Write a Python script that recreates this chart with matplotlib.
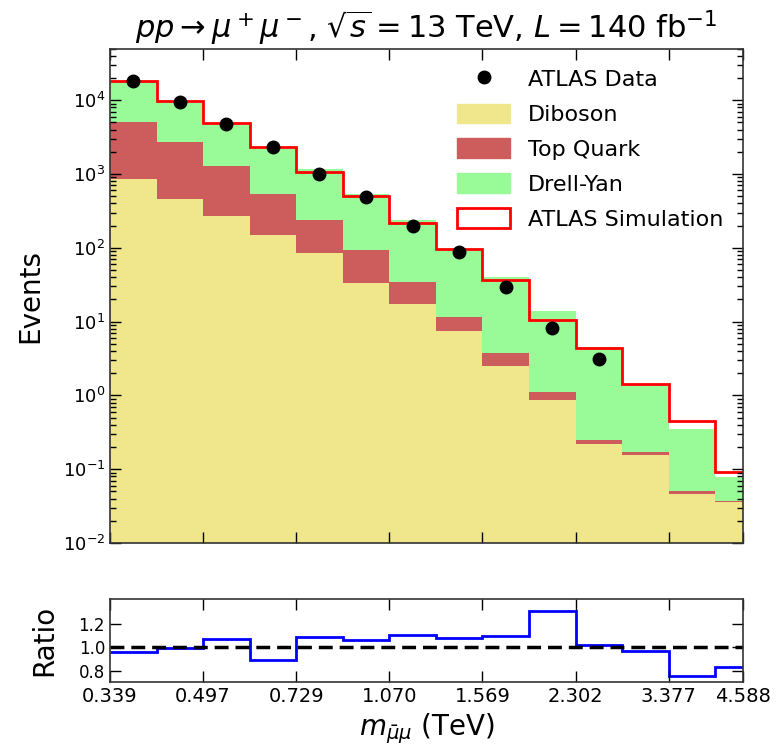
import numpy as np
import matplotlib
matplotlib.use("Agg")
import matplotlib.pyplot as plt
from matplotlib.patches import Patch
from matplotlib.lines import Line2D
from matplotlib.ticker import FixedLocator, FixedFormatter, NullLocator, LogLocator

# bin edges in TeV (log-spaced), the axis ends at 4.588
edges = [0.339, 0.4105, 0.497, 0.6019, 0.729, 0.8832, 1.070, 1.2957,
         1.569, 1.9005, 2.302, 2.7882, 3.377, 4.089, 4.951]
tick_vals = [0.339, 0.497, 0.729, 1.070, 1.569, 2.302, 3.377, 4.588]
tick_labels = ["0.339", "0.497", "0.729", "1.070", "1.569", "2.302", "3.377", "4.588"]

# stacked backgrounds (events per bin)
diboson = [848, 463, 272, 147, 85.5, 33, 17.3, 7.4, 2.54, 0.87, 0.221, 0.156, 0.046, 0.0365]
top_quark = [4240, 2210, 1013, 388, 155, 60, 16.7, 4.1, 1.16, 0.26, 0.025, 0.015, 0.005, 0.0005]
drell_yan = [12300, 6560, 3345, 1632, 943, 437, 201, 85.5, 36.2, 13.0, 4.25, 1.19, 0.296, 0.041]

# simulation and data
simulation = [18200, 9630, 4840, 2306, 1079, 502, 218, 95, 36.3, 10.6, 4.38, 1.43, 0.451, 0.093]
data = [18200, 9500, 4700, 2350, 990, 487, 196, 88, 29.5, 8.1, 3.1]

# ratio panel
ratio = [0.963, 0.994, 1.069, 0.888, 1.089, 1.066, 1.104, 1.078, 1.10, 1.314, 1.017, 0.965, 0.75, 0.827]

edges_a = np.array(edges)
centers = np.sqrt(edges_a[:-1] * edges_a[1:])

fig = plt.figure(figsize=(7.8, 7.48), dpi=100)
ax = fig.add_axes([0.141, 0.274, 0.812, 0.661])
rax = fig.add_axes([0.141, 0.088, 0.812, 0.111])

ax.set_xscale("log")
ax.set_yscale("log")

# stack
floor = np.full(len(diboson), 1e-6)
s1 = floor + np.array(diboson)
s2 = s1 + np.array(top_quark)
s3 = s2 + np.array(drell_yan)
ax.stairs(s1, edges, baseline=floor, fill=True, color="khaki", lw=0)
ax.stairs(s2, edges, baseline=s1, fill=True, color="indianred", lw=0)
ax.stairs(s3, edges, baseline=s2, fill=True, color="palegreen", lw=0)
ax.stairs(simulation, edges, baseline=None, color="red", lw=2)
ax.plot(centers[:len(data)], data, "o", color="black", ms=9, zorder=5)

ax.set_xlim(0.339, 4.588)
ax.set_ylim(1e-2, 5e4)
ax.set_ylabel("Events", fontsize=20)
ax.yaxis.set_label_coords(-0.103, 0.5)
ax.set_title(r"$pp \rightarrow \mu^+\mu^-$, $\sqrt{s} = 13$ TeV, $L = 140$ fb$^{-1}$",
             fontsize=22, pad=8)

handles = [
    Line2D([], [], marker="o", ls="none", color="black", ms=9),
    Patch(color="khaki"),
    Patch(color="indianred"),
    Patch(color="palegreen"),
    Patch(facecolor="white", edgecolor="red", lw=2),
]
ax.legend(handles, ["ATLAS Data", "Diboson", "Top Quark", "Drell-Yan", "ATLAS Simulation"],
          loc="upper right", frameon=False, fontsize=16, handlelength=2.4, handleheight=1.0,
          labelspacing=0.6, borderaxespad=0.5)

# ratio
rax.set_xscale("log")
rax.stairs(ratio, edges, baseline=None, color="blue", lw=2)
rax.axhline(1.0, color="black", ls="--", lw=2.5, dashes=(4, 2))
rax.set_xlim(0.339, 4.588)
rax.set_ylim(0.7, 1.415)
rax.set_yticks([0.8, 1.0, 1.2])
rax.set_ylabel("Ratio", fontsize=20)
rax.yaxis.set_label_coords(-0.082, 0.5)
rax.set_xlabel(r"$m_{\bar{\mu}\mu}$ (TeV)", fontsize=20)

for a in (ax, rax):
    a.xaxis.set_major_locator(FixedLocator(tick_vals))
    a.xaxis.set_minor_locator(NullLocator())
    a.tick_params(which="both", direction="in", top=True, right=True, labelsize=13)
    a.tick_params(which="major", length=8, width=1)
    a.tick_params(which="minor", length=4, width=1)
    for sp in a.spines.values():
        sp.set_linewidth(1.2)
        sp.set_color("#333333")

ax.xaxis.set_major_formatter(FixedFormatter(tick_labels))
ax.tick_params(axis="x", labelbottom=False)
rax.xaxis.set_major_formatter(FixedFormatter(tick_labels))
rax.tick_params(axis="x", labelsize=14)
rax.tick_params(axis="y", labelsize=12)
ax.yaxis.set_major_locator(LogLocator(base=10, numticks=10))
ax.yaxis.set_minor_locator(LogLocator(base=10, subs=np.arange(2, 10), numticks=100))

fig.savefig("out.png", dpi=100)
